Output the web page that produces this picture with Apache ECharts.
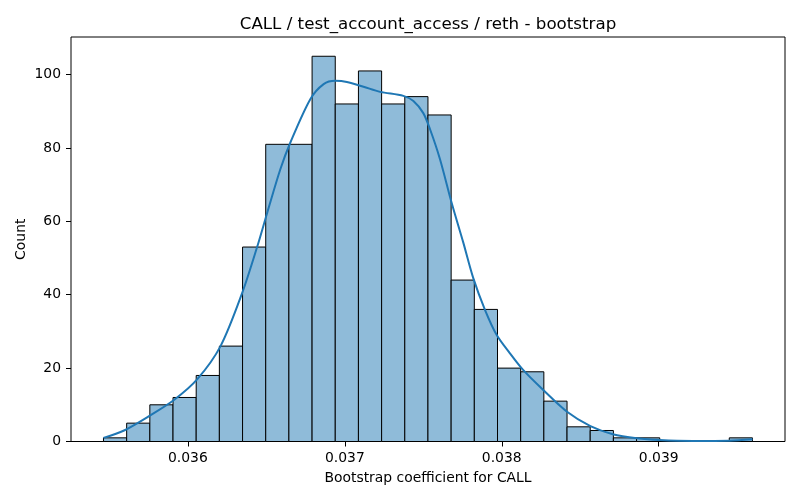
<!DOCTYPE html>
<html lang="en">
<head>
    <meta charset="UTF-8">
    <title>CALL bootstrap</title>
    <style>
        html, body { margin: 0; padding: 0; background: #fff; }
        #chart { width: 800px; height: 500px; }
    </style>
</head>
<body>
<div id="chart"></div>
<script src="https://cdn.jsdelivr.net/npm/echarts@6.0.0/dist/echarts.min.js"></script>
<script>
// histogram: 28 equal bins, first lower edge and width
var binStart = 0.035462;
var binWidth = 0.0001477;
var binCounts = [1, 5, 10, 12, 18, 26, 53, 81, 81, 105, 92, 101, 92, 94, 89,
                 44, 36, 20, 19, 11, 4, 3, 1, 1, 0, 0, 0, 1];

// kde curve (scaled to counts)
var kdeX = [0.035462, 0.035593, 0.035763, 0.035911, 0.036060, 0.036208,
            0.036346, 0.036441, 0.036505, 0.036589, 0.036653, 0.036780, 0.036865,
            0.036939, 0.037013, 0.037119, 0.037225, 0.037373, 0.037437, 0.037500,
            0.037543, 0.037606, 0.037681, 0.037755, 0.037818, 0.037893, 0.037967,
            0.038051, 0.038136, 0.038253, 0.038416, 0.038565, 0.038708, 0.038861,
            0.039005, 0.039217, 0.039450, 0.039598];
var kdeY = [1.0, 3.0, 7.2, 11.3, 17.0, 26.0,
            40.5, 53.0, 62.3, 74.2, 81.5, 93.3, 97.4,
            98.3, 98.0, 96.7, 95.3, 94.2, 92.8, 89.5,
            85.1, 77.0, 65.0, 54.2, 44.6, 35.9, 29.1,
            24.1, 19.5, 14.5, 8.1, 4.2, 2.0, 0.9,
            0.4, 0.15, 0.2, 0.6];

var meanValue = 0.037123;
var xTicks = [0.036, 0.037, 0.038, 0.039];
var yTicks = [0, 20, 40, 60, 80, 100];

var font = 'DejaVu Sans';

var bins = [];
for (var i = 0; i < binCounts.length; i++) {
    var lo = binStart + i * binWidth;
    bins.push([lo, lo + binWidth, binCounts[i]]);
}
var kde = [];
for (var j = 0; j < kdeX.length; j++) {
    kde.push([kdeX[j], kdeY[j]]);
}

var myChart = echarts.init(document.getElementById('chart'));
var option = {
    backgroundColor: '#fff',
    animation: false,
    title: {
        text: 'CALL / test_account_access / reth - bootstrap',
        left: 423,
        top: 11,
        textAlign: 'center',
        textStyle: { fontFamily: font, fontSize: 16.7, fontWeight: 'normal', color: '#000' }
    },
    grid: {
        left: 71, right: 15, top: 37, bottom: 58.5,
        show: true, borderColor: '#000', borderWidth: 1, backgroundColor: 'transparent'
    },
    xAxis: {
        type: 'value',
        min: 0.035255,
        max: 0.039805,
        name: 'Bootstrap coefficient for CALL',
        nameLocation: 'middle',
        nameGap: 30,
        nameTextStyle: { fontFamily: font, fontSize: 13.9, color: '#000' },
        splitLine: { show: false },
        axisLine: { show: false },
        axisTick: { show: true, inside: false, length: 5, customValues: xTicks,
                    lineStyle: { color: '#000', width: 1 } },
        axisLabel: { customValues: xTicks, margin: 10, fontFamily: font, fontSize: 13.9, color: '#000',
                     formatter: function (v) { return v.toFixed(3); } }
    },
    yAxis: {
        type: 'value',
        min: 0,
        max: 110.25,
        name: 'Count',
        nameLocation: 'middle',
        nameGap: 43,
        nameMoveOverlap: false,
        nameTextStyle: { fontFamily: font, fontSize: 13.9, color: '#000' },
        splitLine: { show: false },
        axisLine: { show: false },
        axisTick: { show: true, inside: false, length: 5, customValues: yTicks,
                    lineStyle: { color: '#000', width: 1 } },
        axisLabel: { customValues: yTicks, margin: 10, fontFamily: font, fontSize: 13.9, color: '#000' }
    },
    series: [
        {
            type: 'custom',
            data: bins,
            encode: { x: [0, 1], y: 2 },
            z: 2,
            renderItem: function (params, api) {
                var top = api.coord([api.value(0), api.value(2)]);
                var base = api.coord([api.value(1), 0]);
                return {
                    type: 'rect',
                    shape: { x: top[0], y: top[1], width: base[0] - top[0], height: base[1] - top[1] },
                    style: { fill: '#8fbbd9', stroke: '#000', lineWidth: 1 }
                };
            }
        },
        {
            type: 'line',
            data: kde,
            smooth: 0.3,
            showSymbol: false,
            z: 3,
            lineStyle: { color: '#1f77b4', width: 2 },
            markLine: {
                silent: true,
                symbol: 'none',
                label: { show: false },
                lineStyle: { color: '#ff0000', width: 1, type: [4, 2] },
                data: [{ xAxis: meanValue }]
            }
        }
    ]
};
myChart.setOption(option);
</script>
</body>
</html>
